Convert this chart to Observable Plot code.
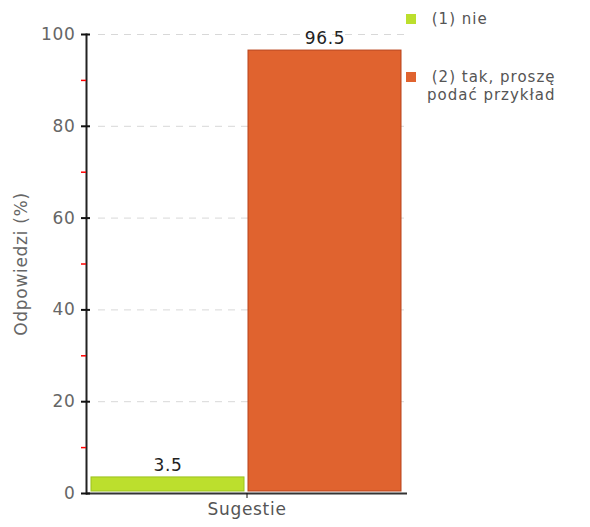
<!DOCTYPE html>
<html>
<head>
<meta charset="utf-8">
<script src="https://cdn.jsdelivr.net/npm/d3@7"></script>
<script src="https://cdn.jsdelivr.net/npm/@observablehq/plot@0.6"></script>
<style>
  body { margin: 0; background: #fff; font-family: "DejaVu Sans", sans-serif; }
  #wrap { position: relative; width: 590px; height: 527px; }
  #legend { position: absolute; left: 406px; top: 10px; font-size: 15px; color: #555; letter-spacing: 1px; }
  .item { position: relative; padding-left: 20px; white-space: pre; line-height: 18px; }
  .sw { position: absolute; left: 0; top: 4px; width: 10px; height: 10px; }
</style>
</head>
<body>
<div id="wrap"><div id="legend"></div></div>
<script>
const categories = ["Sugestie"];
const series = ["(1) nie", "(2) tak, proszę podać przykład"];
const legendLines = [[" (1) nie"], [" (2) tak, proszę", "podać przykład"]];
const values = [3.5, 96.5];
const labels = ["3.5", "96.5"];
const fills = ["#bcdf2d", "#e0632f"];
const strokes = ["#9cc21e", "#b8431a"];
const majorTicks = [0, 20, 40, 60, 80, 100];
const minorTicks = [10, 30, 50, 70, 90];
const gridTicks = [20, 40, 60, 80, 100];

const data = series.map((s, i) => ({cat: categories[0], s, v: values[i], label: labels[i]}));

const chart = Plot.plot({
  width: 590,
  height: 527,
  marginLeft: 86,
  marginRight: 183,
  marginTop: 34,
  marginBottom: 34,
  style: {fontFamily: "DejaVu Sans", fontSize: "18px", background: "#fff", letterSpacing: "0.7px"},
  fx: {domain: categories, padding: 0, label: null},
  x: {domain: series, paddingInner: 0.025, paddingOuter: 0.03, axis: null},
  y: {domain: [0, 100]},
  color: {domain: series, range: fills},
  marks: [
    Plot.gridY(gridTicks, {stroke: "#d8d8d8", strokeOpacity: 1, strokeDasharray: "7,6", insetLeft: 12}),
    Plot.barY(data, {fx: "cat", x: "s", y: "v", fill: "s", stroke: (d, i) => strokes[series.indexOf(d.s)], strokeWidth: 1, insetBottom: 2}),
    Plot.text(data, {fx: "cat", x: "s", y: "v", text: "label", dy: -12, fill: "#222", fontSize: 17}),
    Plot.frame({anchor: "left", stroke: "#222", strokeWidth: 2}),
    Plot.ruleY([0], {stroke: "#333", strokeWidth: 2}),
    Plot.axisY(majorTicks, {tickSize: 0, tickPadding: 11, fill: "#666", label: "Odpowiedzi (%)", labelAnchor: "center", labelArrow: "none", labelOffset: 72, fontSize: 17}),
    Plot.axisY(majorTicks, {tickSize: 9, dx: 4, stroke: "#111", strokeWidth: 2, fill: "none"}),
    Plot.axisY(minorTicks, {tickSize: 5, stroke: "red", strokeWidth: 1.5, fill: "none"}),
    Plot.axisFx({anchor: "bottom", tickSize: 5, tickPadding: 4, fill: "#555", label: null, stroke: "#111", fontSize: 17})
  ]
});
document.getElementById("wrap").prepend(chart);

const legend = document.getElementById("legend");
legendLines.forEach((lines, i) => {
  const item = document.createElement("div");
  item.className = "item";
  item.style.marginBottom = i === 0 ? "40px" : "0";
  const sw = document.createElement("span");
  sw.className = "sw";
  sw.style.background = fills[i];
  item.appendChild(sw);
  lines.forEach((t, j) => {
    const line = document.createElement("div");
    line.textContent = t;
    if (j > 0) line.style.marginLeft = "1px";
    item.appendChild(line);
  });
  legend.appendChild(item);
});
</script>
</body>
</html>
